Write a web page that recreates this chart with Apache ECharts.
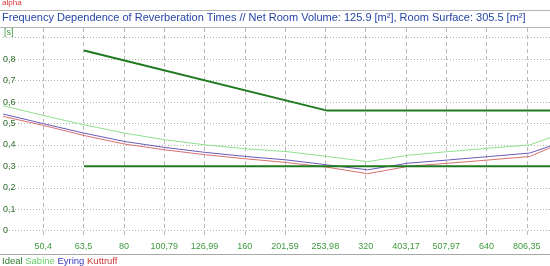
<!DOCTYPE html>
<html><head><meta charset="utf-8">
<script src="https://cdn.jsdelivr.net/npm/echarts@6/dist/echarts.min.js"></script>
<style>html,body{margin:0;padding:0;background:#fff}#c{width:550px;height:266px}</style>
</head><body><div id="c"></div>
<script>
// Frequency band labels (one-third-octave style, comma decimal)
const freqLabels = ['40','50,4','63,5','80','100,79','126,99','160','201,59','253,98','320','403,17','507,97','640','806,35','1015,9'];
const yTickLabels = ['0','0,1','0,2','0,3','0,4','0,5','0,6','0,7','0,8',''];
// Series values per band
const sabine   = [0.583,0.537,0.494,0.455,0.424,0.400,0.382,0.369,0.346,0.322,0.352,0.369,0.385,0.400,0.467];
const eyring   = [0.544,0.499,0.455,0.416,0.388,0.365,0.346,0.330,0.307,0.284,0.315,0.330,0.346,0.362,0.427];
const kuttruff = [0.533,0.491,0.444,0.404,0.377,0.354,0.335,0.318,0.296,0.266,0.300,0.315,0.330,0.346,0.427];
// Ideal tolerance band (corner points)
const idealUpperFreq = ['63,5','253,98','1015,9'];
const idealUpperVal  = [0.84, 0.56, 0.56];
const idealLowerFreq = ['63,5','1015,9'];
const idealLowerVal  = [0.30, 0.30];

const titleText = 'Frequency Dependence of Reverberation Times // Net Room Volume: 125.9 [m\u00b2], Room Surface: 305.5 [m\u00b2]';

const FONT = 'Arial, "Liberation Sans", sans-serif';
const toPts = (freqs, vals) => freqs.map((f, i) => [freqLabels.indexOf(f), vals[i]]);
const byIndex = arr => arr.map((v, i) => [i, v]);

const chart = echarts.init(document.getElementById('c'), null, {renderer: 'canvas'});
chart.setOption({
  animation: false,
  backgroundColor: '#fff',
  textStyle: {fontFamily: FONT},
  title: [
    {text: 'alpha', left: 2, top: -1, padding: 0, textStyle: {fontSize: 8, fontWeight: 'normal', color: '#e03030', fontFamily: FONT}},
    {text: titleText, left: 2, top: 12, padding: 0, textStyle: {fontSize: 11, fontWeight: 'normal', color: '#2545a8', fontFamily: FONT}},
    {text: '{a|Ideal} {b|Sabine} {c|Eyring} {d|Kuttruff}', left: 2, top: 256, padding: 0,
     textStyle: {fontSize: 9.5, fontWeight: 'normal', fontFamily: FONT,
       rich: {a: {color: '#2a7a2a', fontSize: 9.5}, b: {color: '#66cc66', fontSize: 9.5}, c: {color: '#3a3ac0', fontSize: 9.5}, d: {color: '#d03838', fontSize: 9.5}}}}
  ],
  graphic: [
    {type: 'line', shape: {x1: 0, y1: 10.5, x2: 550, y2: 10.5}, style: {stroke: '#b4b4b4', lineWidth: 1}, z: 10},
    {type: 'line', shape: {x1: 0, y1: 27.5, x2: 550, y2: 27.5}, style: {stroke: '#b4b4b4', lineWidth: 1}, z: 10},
    {type: 'line', shape: {x1: 0, y1: 254.5, x2: 550, y2: 254.5}, style: {stroke: '#a8a8a8', lineWidth: 1}, z: 10}
  ],
  grid: [
    {left: 0, right: 0, top: 37.7, bottom: 35.3},
    {left: 0, right: 0, top: 28, bottom: 28}
  ],
  xAxis: [
    {gridIndex: 0, type: 'value', min: 0, max: 13.5, show: false},
    {gridIndex: 1, type: 'value', min: 0, max: 13.5, interval: 1,
     axisLine: {show: false}, axisTick: {show: false},
     splitLine: {show: true, showMinLine: false, showMaxLine: false, lineStyle: {color: '#b8b8b8', type: [4, 3], width: 1}},
     axisLabel: {margin: 4, fontSize: 9, color: '#3f9a3f', fontFamily: FONT,
       formatter: v => (Number.isInteger(v) && v > 0 && v < freqLabels.length) ? freqLabels[v] : ''}}
  ],
  yAxis: [
    {gridIndex: 0, type: 'value', min: 0, max: 0.9, interval: 0.1,
     name: '[s]', nameLocation: 'end', nameGap: 1,
     nameTextStyle: {align: 'left', color: '#3f9a3f', fontSize: 9, fontFamily: FONT, padding: [0, 0, 0, 1]},
     axisLine: {show: false}, axisTick: {show: false},
     axisLabel: {inside: true, margin: 0, fontSize: 9, color: '#2f6f2f', fontFamily: FONT,
       formatter: v => yTickLabels[Math.round(v * 10)] || ''},
     splitLine: {show: true, lineStyle: {color: '#a9b9a9', type: [1, 2], width: 1}}},
    {gridIndex: 1, type: 'value', min: 0, max: 1, show: false, splitLine: {show: false}}
  ],
  series: [
    {name: 'Sabine', type: 'line', xAxisIndex: 0, yAxisIndex: 0, data: byIndex(sabine), symbol: 'none',
     lineStyle: {color: '#8fe08f', width: 1}},
    {name: 'Eyring', type: 'line', xAxisIndex: 0, yAxisIndex: 0, data: byIndex(eyring), symbol: 'none',
     lineStyle: {color: '#6a5ab8', width: 1}},
    {name: 'Kuttruff', type: 'line', xAxisIndex: 0, yAxisIndex: 0, data: byIndex(kuttruff), symbol: 'none',
     lineStyle: {color: '#d87070', width: 1}},
    {name: 'Ideal', type: 'line', xAxisIndex: 0, yAxisIndex: 0, data: toPts(idealUpperFreq, idealUpperVal), symbol: 'none',
     lineStyle: {color: '#1f7a1f', width: 2}, z: 5},
    {name: 'Ideal', type: 'line', xAxisIndex: 0, yAxisIndex: 0, data: toPts(idealLowerFreq, idealLowerVal), symbol: 'none',
     lineStyle: {color: '#1f7a1f', width: 2}, z: 5}
  ]
});
</script></body></html>
